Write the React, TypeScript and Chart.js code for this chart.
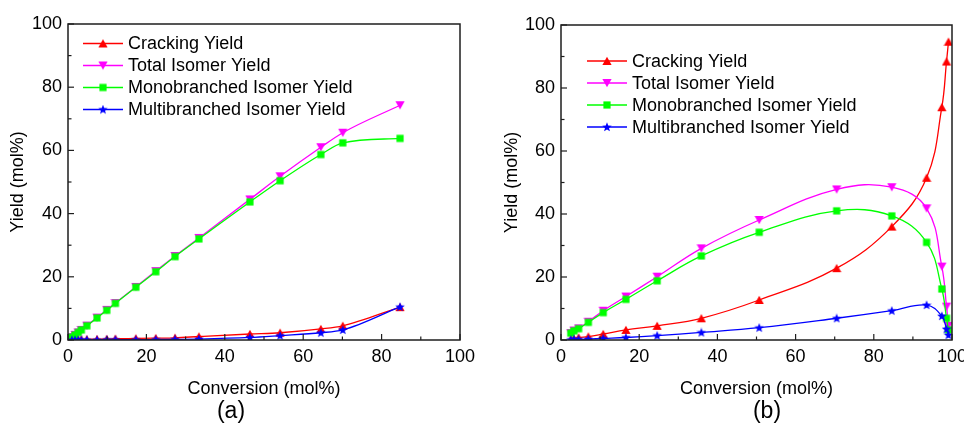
import React, { useEffect, useRef } from "react";
import { Chart, registerables } from "chart.js";

Chart.register(...registerables);

// ---------- data ----------
const seriesNames = [
  "Cracking Yield",
  "Total Isomer Yield",
  "Monobranched Isomer Yield",
  "Multibranched Isomer Yield",
];
const seriesColors = ["#FF0000", "#FF00FF", "#00FF00", "#0000FF"];
const seriesMarkers = ["up", "down", "square", "star"];
const axisTickLabels = [0, 20, 40, 60, 80, 100];
const xTitle = "Conversion (mol%)";
const yTitle = "Yield (mol%)";

// panel (a)
const convA = [1.0, 1.8, 2.6, 3.4, 4.8, 7.4, 9.9, 12.1, 17.3, 22.4, 27.3, 33.4, 46.4, 54.1, 64.5, 70.1, 84.7];
const crackA = [0.1, 0.15, 0.2, 0.2, 0.25, 0.3, 0.35, 0.4, 0.5, 0.6, 0.7, 1.1, 1.9, 2.3, 3.5, 4.5, 10.4];
const totalA = [0.9, 1.65, 2.4, 3.2, 4.55, 7.1, 9.55, 11.7, 16.8, 21.8, 26.6, 32.3, 44.5, 51.8, 61.0, 65.6, 74.3];
const monoA = [0.9, 1.6, 2.4, 3.2, 4.5, 7.0, 9.4, 11.6, 16.7, 21.6, 26.4, 32.0, 43.7, 50.4, 58.7, 62.4, 63.8];
const multiA = [0, 0, 0, 0, 0.05, 0.05, 0.1, 0.1, 0.1, 0.15, 0.2, 0.3, 0.8, 1.4, 2.3, 3.2, 10.5];

// panel (b)
const convB = [2.5, 3.3, 4.5, 7.0, 10.8, 16.6, 24.6, 35.9, 50.7, 70.5, 84.6, 93.5, 97.4, 98.6, 99.1];
const crackB = [0.3, 0.5, 0.8, 1.1, 1.9, 3.2, 4.5, 6.9, 12.7, 22.8, 36.0, 51.5, 73.9, 88.4, 94.7];
const totalB = [2.2, 3.0, 3.7, 5.8, 9.3, 13.8, 20.1, 29.1, 38.1, 47.8, 48.5, 41.8, 23.3, 10.6, 4.5];
const monoB = [2.2, 2.9, 3.6, 5.6, 8.7, 12.9, 18.8, 26.7, 34.2, 41.0, 39.4, 31.0, 16.2, 6.9, 3.2];
const multiB = [0.1, 0.2, 0.2, 0.3, 0.5, 0.8, 1.4, 2.4, 3.9, 6.9, 9.3, 11.1, 7.6, 3.5, 1.6];

const FONT_FAMILY = '"Liberation Sans", Arial, Helvetica, sans-serif';

// ---------- markers ----------
function makeMarker(kind: string, color: string): HTMLCanvasElement {
  const s = 10;
  const c = document.createElement("canvas");
  c.width = s;
  c.height = s;
  const g = c.getContext("2d")!;
  g.fillStyle = color;
  g.beginPath();
  if (kind === "up") {
    g.moveTo(5, 0.8);
    g.lineTo(9.6, 9);
    g.lineTo(0.4, 9);
    g.closePath();
  } else if (kind === "down") {
    g.moveTo(0.4, 1);
    g.lineTo(9.6, 1);
    g.lineTo(5, 9.2);
    g.closePath();
  } else if (kind === "square") {
    g.rect(1.4, 1.4, 7.2, 7.2);
  } else {
    const cx = 5, cy = 5.3, ro = 5, ri = 2.1;
    for (let i = 0; i < 10; i++) {
      const r = i % 2 === 0 ? ro : ri;
      const a = -Math.PI / 2 + (i * Math.PI) / 5;
      const px = cx + r * Math.cos(a);
      const py = cy + r * Math.sin(a);
      if (i === 0) g.moveTo(px, py);
      else g.lineTo(px, py);
    }
    g.closePath();
  }
  g.fill();
  return c;
}

// ---------- plugin: frame, inward ticks, legend ----------
const frameLegendPlugin = {
  id: "frameLegend",
  afterDraw(chart: any, _args: any, opts: any) {
    const { ctx, chartArea: a, scales } = chart;
    ctx.save();
    // frame
    ctx.strokeStyle = "#1e1e1e";
    ctx.lineWidth = 1.5;
    ctx.strokeRect(a.left, a.top, a.right - a.left, a.bottom - a.top);
    // inward ticks (major at labels, minor halfway)
    ctx.lineWidth = 1.2;
    const majors = axisTickLabels;
    const all: { v: number; major: boolean }[] = [];
    for (let i = 0; i < majors.length; i++) {
      all.push({ v: majors[i], major: true });
      if (i < majors.length - 1) all.push({ v: (majors[i] + majors[i + 1]) / 2, major: false });
    }
    for (const t of all) {
      const len = t.major ? 6 : 3.5;
      const px = scales.x.getPixelForValue(t.v);
      ctx.beginPath();
      ctx.moveTo(px, a.bottom);
      ctx.lineTo(px, a.bottom - len);
      ctx.stroke();
      const py = scales.y.getPixelForValue(t.v);
      ctx.beginPath();
      ctx.moveTo(a.left, py);
      ctx.lineTo(a.left + len, py);
      ctx.stroke();
    }
    // legend
    ctx.font = `18px ${FONT_FAMILY}`;
    ctx.textBaseline = "middle";
    ctx.textAlign = "left";
    chart.data.datasets.forEach((ds: any, i: number) => {
      const y = a.top + opts.top + i * opts.gap;
      const x0 = a.left + opts.lineStart;
      const x1 = x0 + 40;
      ctx.strokeStyle = ds.borderColor;
      ctx.lineWidth = 1.3;
      ctx.beginPath();
      ctx.moveTo(x0, y);
      ctx.lineTo(x1, y);
      ctx.stroke();
      const m = ds.pointStyle as HTMLCanvasElement;
      ctx.drawImage(m, (x0 + x1) / 2 - m.width / 2, y - m.height / 2);
      ctx.fillStyle = "#000";
      ctx.fillText(ds.label, a.left + opts.textStart, y + 1);
    });
    ctx.restore();
  },
};

type PanelProps = {
  conv: number[];
  series: number[][];
  left: number;
  yWidth: number;
  padRight: number;
  padTop: number;
  yTitlePad: number;
  smooth: "monotone" | "bezier";
  legend: { top: number; gap: number; lineStart: number; textStart: number };
};

function Panel(p: PanelProps) {
  const ref = useRef<HTMLCanvasElement | null>(null);
  useEffect(() => {
    if (!ref.current) return;
    const font = { family: FONT_FAMILY, size: 18 };
    const datasets = p.series.map((vals, i) => ({
      label: seriesNames[i],
      data: p.conv.map((x, j) => ({ x, y: vals[j] })),
      borderColor: seriesColors[i],
      backgroundColor: seriesColors[i],
      borderWidth: 1.3,
      pointStyle: makeMarker(seriesMarkers[i], seriesColors[i]),
      pointRadius: 4,
      pointHoverRadius: 4,
      tension: p.smooth === "bezier" ? 0.4 : 0,
      cubicInterpolationMode: p.smooth === "monotone" ? "monotone" : "default",
      order: seriesNames.length - i,
      fill: false,
    }));
    const chart = new Chart(ref.current, {
      type: "line",
      data: { datasets } as any,
      options: {
        responsive: false,
        animation: false,
        devicePixelRatio: 1,
        layout: { padding: { left: 0, right: p.padRight, top: p.padTop, bottom: 29 } },
        plugins: {
          legend: { display: false },
          tooltip: { enabled: false },
          frameLegend: p.legend,
        } as any,
        scales: {
          x: {
            type: "linear",
            min: 0,
            max: 100,
            afterBuildTicks: (s: any) => {
              s.ticks = axisTickLabels.map((v) => ({ value: v }));
            },
            afterFit: (s: any) => {
              s.height = 60;
              s.paddingLeft = 0;
              s.paddingRight = 0;
            },
            ticks: { font, color: "#000", padding: 6, maxRotation: 0, autoSkip: false },
            grid: { display: false, drawTicks: false },
            border: { display: false },
            title: {
              display: true,
              text: xTitle,
              font,
              color: "#000",
              padding: { top: 5, bottom: 0 },
            },
          },
          y: {
            type: "linear",
            min: 0,
            max: 100,
            afterBuildTicks: (s: any) => {
              s.ticks = axisTickLabels.map((v) => ({ value: v }));
            },
            afterFit: (s: any) => {
              s.width = p.yWidth;
              s.paddingTop = 0;
              s.paddingBottom = 0;
            },
            ticks: { font, color: "#000", padding: 6, autoSkip: false },
            grid: { display: false, drawTicks: false },
            border: { display: false },
            title: {
              display: true,
              text: yTitle,
              font,
              color: "#000",
              padding: { top: p.yTitlePad, bottom: 0 },
            },
          },
        },
      } as any,
      plugins: [frameLegendPlugin as any],
    });
    return () => chart.destroy();
  }, []);
  return (
    <div style={{ position: "absolute", left: p.left, top: 0, width: 482, height: 429 }}>
      <canvas ref={ref} width={482} height={429} style={{ width: 482, height: 429, display: "block" }} />
    </div>
  );
}

export default function App() {
  const labelStyle: React.CSSProperties = {
    position: "absolute",
    top: 397,
    fontFamily: FONT_FAMILY,
    fontSize: 23,
    color: "#000",
    lineHeight: "26px",
    transform: "translateX(-50%)",
    whiteSpace: "nowrap",
  };
  return (
    <div style={{ position: "fixed", left: 0, top: 0, width: 964, height: 429, background: "#fff", overflow: "hidden" }}>
      <Panel
        conv={convA}
        series={[crackA, totalA, monoA, multiA]}
        left={0}
        yWidth={68}
        padRight={22}
        padTop={24}
        yTitlePad={7}
        smooth="monotone"
        legend={{ top: 19.5, gap: 22, lineStart: 15, textStart: 60 }}
      />
      <Panel
        conv={convB}
        series={[crackB, totalB, monoB, multiB]}
        left={482}
        yWidth={79}
        padRight={12}
        padTop={25}
        yTitlePad={19}
        smooth="bezier"
        legend={{ top: 36, gap: 22, lineStart: 26, textStart: 71 }}
      />
      <div style={{ ...labelStyle, left: 231 }}>(a)</div>
      <div style={{ ...labelStyle, left: 767 }}>(b)</div>
    </div>
  );
}
